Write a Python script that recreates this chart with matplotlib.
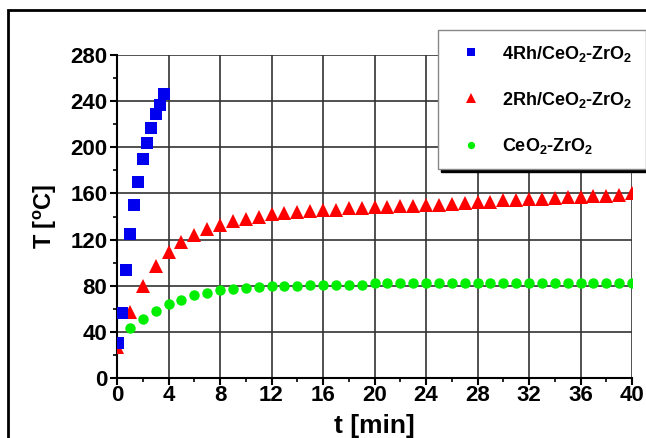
import numpy as np
import matplotlib
matplotlib.use('Agg')
import matplotlib.pyplot as plt
from matplotlib.patches import Rectangle
from matplotlib.ticker import MultipleLocator

plt.rcParams['font.family'] = ['Liberation Sans', 'DejaVu Sans']
plt.rcParams['font.weight'] = 'bold'
plt.rcParams['mathtext.fontset'] = 'custom'
plt.rcParams['mathtext.rm'] = 'Liberation Sans:bold'
plt.rcParams['mathtext.bf'] = 'Liberation Sans:bold'
plt.rcParams['mathtext.default'] = 'bf'

# 4Rh/CeO2-ZrO2
t_4rh = [0.1, 0.4, 0.7, 1.0, 1.35, 1.65, 2.0, 2.3, 2.65, 3.0, 3.35, 3.65]
T_4rh = [30, 56, 94, 125, 150, 170, 190, 204, 217, 229, 237, 246]

# 2Rh/CeO2-ZrO2
t_2rh = list(range(0, 41))
T_2rh = [27, 57, 80, 97, 109, 118, 124, 129, 133, 136, 138, 140, 142, 143, 144, 145,
         146, 146, 147, 147, 148, 148, 149, 149, 150, 150, 151, 152, 153, 153, 154, 154,
         155, 155, 156, 157, 157, 158, 158, 159, 160]

# CeO2-ZrO2
t_ce = list(range(0, 41))
T_ce = [31, 43, 51, 58, 64, 68, 72, 74, 76, 77, 78, 79, 80, 80, 80, 81,
        81, 81, 81, 81, 82, 82, 82, 82, 82, 82, 82, 82, 82, 82, 82, 82,
        82, 82, 82, 82, 82, 82, 82, 82, 82]

fig = plt.figure(figsize=(6.46, 4.38), dpi=100)
ax = fig.add_axes([117/646, 1-378/438, (632-117)/646, (378-55)/438])

ax.plot(t_ce, T_ce, 'o', color='#00ee00', markersize=7.5, markeredgewidth=0,
        label='CeO$_2$-ZrO$_2$', zorder=3)
ax.plot(t_2rh, T_2rh, '^', color='red', markersize=10, markeredgewidth=0,
        label='2Rh/CeO$_2$-ZrO$_2$', zorder=4)
ax.plot(t_4rh, T_4rh, 's', color='#0000ee', markersize=9, markeredgewidth=0,
        label='4Rh/CeO$_2$-ZrO$_2$', zorder=5)

ax.set_xlim(0, 40)
ax.set_ylim(0, 280)
ax.xaxis.set_major_locator(MultipleLocator(4))
ax.xaxis.set_minor_locator(MultipleLocator(2))
ax.yaxis.set_major_locator(MultipleLocator(40))
ax.yaxis.set_minor_locator(MultipleLocator(20))
ax.grid(True, which='major', color='#333333', linewidth=1.2)
ax.set_axisbelow(True)
for s in ['top', 'right']:
    ax.spines[s].set_visible(False)
for s in ['left', 'bottom']:
    ax.spines[s].set_linewidth(1.5)
ax.tick_params(which='major', direction='out', length=5, width=1.5, labelsize=16)
ax.tick_params(axis='x', which='major', pad=0)
ax.tick_params(axis='y', which='major', pad=2)
ax.tick_params(which='minor', direction='out', length=3, width=1.2)
for lbl in ax.get_xticklabels() + ax.get_yticklabels():
    lbl.set_fontweight('bold')

ax.set_xlabel('t [min]', fontsize=19, fontweight='bold', labelpad=6)
ax.set_ylabel('T [$^{o}$C]', fontsize=17, fontweight='bold', labelpad=8)

h, l = ax.get_legend_handles_labels()
leg = fig.legend(h[::-1], l[::-1], loc='upper left', bbox_to_anchor=(438/646, 1-30/438),
                 frameon=True, fancybox=False, shadow={'color': 'black', 'alpha': 1.0},
                 fontsize=13, labelspacing=1.45, handletextpad=0.6, borderpad=0.75,
                 borderaxespad=0, markerscale=0.7, handlelength=2.2)
leg.get_frame().set_edgecolor('#888888')
leg.get_frame().set_linewidth(1.0)
leg.set_zorder(10)

fig.patches.append(Rectangle((8/646, -0.1), 1.1, 1-10/438+0.1, transform=fig.transFigure,
                             fill=False, edgecolor='black', linewidth=2, zorder=0))

fig.savefig('out.png', dpi=100)
